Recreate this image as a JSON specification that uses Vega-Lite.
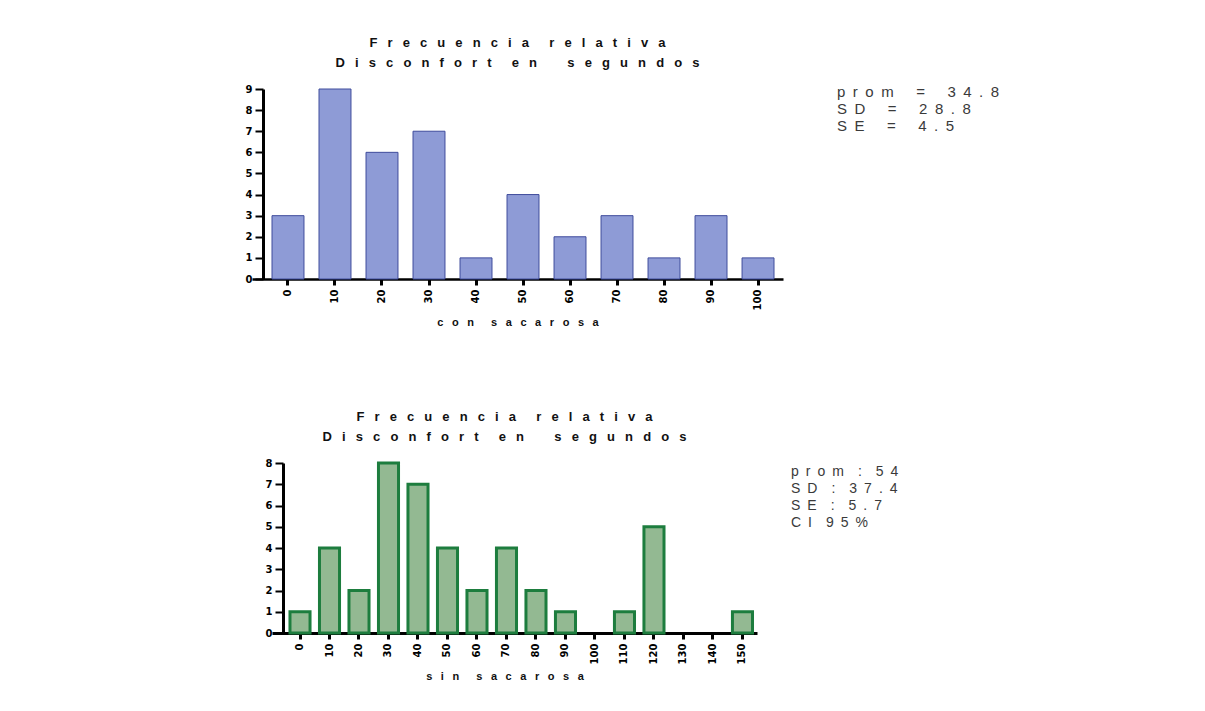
{
  "$schema": "https://vega.github.io/schema/vega-lite/v6.json",
  "background": "white",
  "padding": {"left": 245, "top": 37, "right": 5, "bottom": 5},
  "config": {
    "font": "Liberation Sans",
    "view": {"stroke": null},
    "axis": {"domainColor": "#000", "tickColor": "#000", "labelColor": "#000", "labelFont": "DejaVu Sans", "labelFontWeight": "bold", "labelFontSize": 10, "grid": false, "zindex": 1, "titleFont": "Liberation Sans", "titleFontWeight": "bold", "titleFontSize": 11, "titleColor": "#111"},
    "title": {"font": "Liberation Sans", "fontSize": 13, "fontWeight": "bold", "color": "#111", "lineHeight": 20, "anchor": "middle", "offset": 14}
  },
  "spacing": 83,
  "vconcat": [
    {
      "spacing": 54,
      "hconcat": [
        {
          "title": {"text": ["F\u2002 r\u2002 e\u2002 c\u2002 u\u2002 e\u2002 n\u2002 c\u2002 i\u2002 a\u2002 \u2002 r\u2002 e\u2002 l\u2002 a\u2002 t\u2002 i\u2002 v\u2002 a", "D\u2002 i\u2002 s\u2002 c\u2002 o\u2002 n\u2002 f\u2002 o\u2002 r\u2002 t\u2002 \u2002 e\u2002 n\u2002 \u2002 \u2002 s\u2002 e\u2002 g\u2002 u\u2002 n\u2002 d\u2002 o\u2002 s"]},
          "width": 531,
          "height": 190,
          "data": {"values": [
            {"seg": 0, "n": 3}, {"seg": 10, "n": 9}, {"seg": 20, "n": 6}, {"seg": 30, "n": 7},
            {"seg": 40, "n": 1}, {"seg": 50, "n": 4}, {"seg": 60, "n": 2}, {"seg": 70, "n": 3},
            {"seg": 80, "n": 1}, {"seg": 90, "n": 3}, {"seg": 100, "n": 1}
          ]},
          "mark": {"type": "bar", "fill": "#8e9bd6", "stroke": "#3f4c9c", "strokeWidth": 1},
          "encoding": {
            "x": {"field": "seg", "type": "ordinal", "sort": null,
              "scale": {"paddingInner": 0.32, "paddingOuter": 0.3085, "align": 0.69},
              "axis": {"title": "c\u2002 o\u2002 n\u2002 \u2002 s\u2002 a\u2002 c\u2002 a\u2002 r\u2002 o\u2002 s\u2002 a", "labelAngle": -90, "tickSize": 6, "tickWidth": 3, "domainWidth": 2.5, "labelPadding": 4, "titlePadding": 7}},
            "y": {"field": "n", "type": "quantitative",
              "scale": {"domain": [0, 9], "nice": false},
              "axis": {"title": null, "values": [0, 1, 2, 3, 4, 5, 6, 7, 8, 9], "tickSize": 8, "tickWidth": 2, "domainWidth": 3, "labelPadding": 3, "offset": -11}}
          }
        },
        {
          "width": 180,
          "height": {"step": 17},
          "data": {"values": [
            {"i": 1, "t": "p\u2002r\u2002o\u2002m\u2002\u2002\u2002=\u2002\u2002\u20023\u20024\u2002.\u20028"},
            {"i": 2, "t": "S\u2002D\u2002\u2002\u2002=\u2002\u2002\u20022\u20028\u2002.\u20028"},
            {"i": 3, "t": "S\u2002E\u2002\u2002\u2002=\u2002\u2002\u20024\u2002.\u20025"}
          ]},
          "mark": {"type": "text", "align": "left", "baseline": "middle", "fontSize": 15, "color": "#3a3a3a", "font": "Liberation Sans"},
          "encoding": {
            "y": {"field": "i", "type": "ordinal", "axis": null, "scale": {"type": "point", "padding": 0.2}},
            "x": {"value": 0},
            "text": {"field": "t"}
          }
        }
      ]
    },
    {
      "spacing": 34,
      "hconcat": [
        {
          "title": {"text": ["F\u2002 r\u2002 e\u2002 c\u2002 u\u2002 e\u2002 n\u2002 c\u2002 i\u2002 a\u2002 \u2002 r\u2002 e\u2002 l\u2002 a\u2002 t\u2002 i\u2002 v\u2002 a", "D\u2002 i\u2002 s\u2002 c\u2002 o\u2002 n\u2002 f\u2002 o\u2002 r\u2002 t\u2002 \u2002 e\u2002 n\u2002 \u2002 \u2002 s\u2002 e\u2002 g\u2002 u\u2002 n\u2002 d\u2002 o\u2002 s"]},
          "width": 505,
          "height": 170,
          "data": {"values": [
            {"seg": 0, "n": 1}, {"seg": 10, "n": 4}, {"seg": 20, "n": 2}, {"seg": 30, "n": 8},
            {"seg": 40, "n": 7}, {"seg": 50, "n": 4}, {"seg": 60, "n": 2}, {"seg": 70, "n": 4},
            {"seg": 80, "n": 2}, {"seg": 90, "n": 1}, {"seg": 100, "n": 0}, {"seg": 110, "n": 1},
            {"seg": 120, "n": 5}, {"seg": 130, "n": 0}, {"seg": 140, "n": 0}, {"seg": 150, "n": 1}
          ]},
          "mark": {"type": "bar", "fill": "#93b992", "stroke": "#1d7d3e", "strokeWidth": 3},
          "encoding": {
            "x": {"field": "seg", "type": "ordinal", "sort": null,
              "scale": {"paddingInner": 0.32, "paddingOuter": 0.72, "align": 0.894},
              "axis": {"title": "s\u2002 i\u2002 n\u2002 \u2002 s\u2002 a\u2002 c\u2002 a\u2002 r\u2002 o\u2002 s\u2002 a", "labelAngle": -90, "tickSize": 6, "tickWidth": 3, "domainWidth": 3, "domainDash": [0, 20, 800], "labelPadding": 4, "titlePadding": 7}},
            "y": {"field": "n", "type": "quantitative",
              "scale": {"domain": [0, 8], "nice": false},
              "axis": {"title": null, "values": [0, 1, 2, 3, 4, 5, 6, 7, 8], "tickSize": 8, "tickWidth": 2, "domainWidth": 3, "labelPadding": 3, "offset": -31}},
            "strokeOpacity": {"condition": {"test": "datum.n === 0", "value": 0}, "value": 1}
          }
        },
        {
          "width": 150,
          "height": {"step": 17},
          "data": {"values": [
            {"i": 1, "t": "p\u2002r\u2002o\u2002m\u2002\u2002:\u2002\u20025\u20024"},
            {"i": 2, "t": "S\u2002D\u2002\u2002:\u2002\u20023\u20027\u2002.\u20024"},
            {"i": 3, "t": "S\u2002E\u2002\u2002:\u2002\u20025\u2002.\u20027"},
            {"i": 4, "t": "C\u2002I\u2002\u20029\u20025\u2002%"}
          ]},
          "mark": {"type": "text", "align": "left", "baseline": "middle", "fontSize": 14, "color": "#3a3a3a", "font": "Liberation Sans"},
          "encoding": {
            "y": {"field": "i", "type": "ordinal", "axis": null, "scale": {"type": "point", "padding": 0.5}},
            "x": {"value": 0},
            "text": {"field": "t"}
          }
        }
      ]
    }
  ]
}
